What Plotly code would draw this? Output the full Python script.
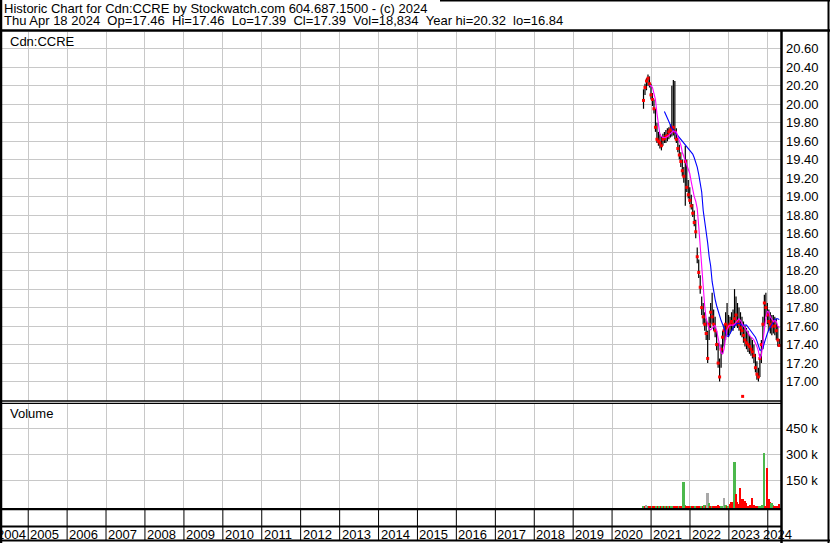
import plotly.graph_objects as go
import pandas as pd

# ---------------- data ----------------
period_dates = pd.date_range(end="2024-04-18", periods=92, freq="14D")

highs = [20.16, 20.22, 20.28, 20.32, 20.30, 20.22, 20.12, 20.05, 19.95, 19.80,
         19.70, 19.68, 19.65, 19.68, 19.70, 19.72, 19.74, 19.75, 19.78, 20.20,
         20.26, 20.25, 19.74, 19.64, 19.56, 19.48, 19.40, 19.32, 19.55, 19.40,
         19.18, 19.10, 19.02, 18.92, 18.85, 18.75, 18.45, 18.32, 18.15, 17.92,
         17.85, 17.75, 17.68, 17.55, 17.70, 17.85, 17.96, 17.78, 17.70, 17.55,
         17.42, 17.25, 17.40, 17.55, 17.62, 17.75, 17.85, 17.72, 17.70, 17.75,
         17.78, 18.00, 17.92, 17.85, 17.80, 17.75, 17.70, 17.65, 17.60, 17.58,
         17.55, 17.50, 17.48, 17.45, 17.40, 17.30, 17.22, 17.15, 17.30, 17.45,
         17.70, 17.94, 17.96, 17.85, 17.78, 17.75, 17.72, 17.72, 17.70, 17.68,
         17.60, 17.46]

lows = [19.95, 20.10, 20.15, 20.20, 20.18, 20.05, 19.98, 19.90, 19.70, 19.58,
        19.55, 19.52, 19.50, 19.55, 19.58, 19.58, 19.60, 19.62, 19.64, 19.65,
        19.66, 19.62, 19.58, 19.48, 19.40, 19.32, 19.22, 19.15, 18.90, 19.05,
        18.98, 18.92, 18.86, 18.78, 18.68, 18.55, 18.28, 18.12, 17.95, 17.72,
        17.62, 17.55, 17.45, 17.20, 17.45, 17.58, 17.62, 17.55, 17.48, 17.34,
        17.15, 17.00, 17.15, 17.30, 17.38, 17.45, 17.50, 17.48, 17.52, 17.55,
        17.55, 17.58, 17.60, 17.58, 17.55, 17.50, 17.48, 17.42, 17.38, 17.35,
        17.32, 17.30, 17.28, 17.25, 17.20, 17.10, 17.02, 17.00, 17.05, 17.20,
        17.35, 17.60, 17.70, 17.62, 17.55, 17.52, 17.50, 17.52, 17.50, 17.45,
        17.38, 17.39]

closes = [20.04, 20.18, 20.25, 20.28, 20.22, 20.10, 20.05, 19.95, 19.75, 19.62,
          19.60, 19.58, 19.55, 19.62, 19.63, 19.65, 19.66, 19.70, 19.72, 19.74,
          19.75, 19.70, 19.62, 19.52, 19.45, 19.38, 19.28, 19.22, 19.38, 19.10,
          19.02, 18.96, 18.90, 18.82, 18.72, 18.62, 18.35, 18.18, 18.02, 17.80,
          17.70, 17.62, 17.52, 17.25, 17.62, 17.75, 17.70, 17.62, 17.55, 17.40,
          17.20, 17.05, 17.35, 17.48, 17.55, 17.62, 17.58, 17.60, 17.62, 17.65,
          17.62, 17.68, 17.72, 17.65, 17.62, 17.58, 17.55, 17.50, 17.45, 17.42,
          17.40, 17.38, 17.35, 17.32, 17.28, 17.15, 17.08, 17.05, 17.25, 17.40,
          17.62, 17.85, 17.80, 17.72, 17.65, 17.62, 17.60, 17.65, 17.60, 17.55,
          17.45, 17.39]

ma_short = [None, None, None, None, 20.20, 20.20, 20.18, 20.12, 20.05, 19.90,
            19.75, 19.67, 19.65, 19.64, 19.64, 19.64, 19.65, 19.66, 19.68, 19.70,
            19.71, 19.70, 19.70, 19.65, 19.60, 19.56, 19.48, 19.43, 19.38, 19.34,
            19.30, 19.25, 19.16, 19.07, 19.00, 18.95, 18.87, 18.68, 18.46, 18.20,
            17.98, 17.82, 17.68, 17.61, 17.57, 17.56, 17.58, 17.60, 17.61, 17.55,
            17.46, 17.38, 17.31, 17.30, 17.35, 17.47, 17.56, 17.60, 17.61, 17.61,
            17.61, 17.62, 17.64, 17.66, 17.68, 17.66, 17.62, 17.60, 17.58, 17.55,
            17.52, 17.50, 17.48, 17.47, 17.45, 17.42, 17.38, 17.33, 17.25, 17.28,
            17.42, 17.58, 17.70, 17.76, 17.75, 17.70, 17.67, 17.65, 17.66, 17.65,
            17.60, 17.58]

ma_long = [None, None, None, None, None, None, None, None, None, None,
           None, None, None, None, 19.92, 19.88, 19.85, 19.80, 19.76, 19.74,
           19.72, 19.70, 19.68, 19.66, 19.64, 19.62, 19.60, 19.58, 19.56, 19.55,
           19.53, 19.51, 19.48, 19.46, 19.42, 19.38, 19.32, 19.24, 19.13, 19.05,
           18.85, 18.74, 18.62, 18.50, 18.35, 18.25, 18.08, 17.97, 17.89, 17.82,
           17.76, 17.71, 17.66, 17.62, 17.57, 17.52, 17.49, 17.49, 17.52, 17.56,
           17.59, 17.61, 17.62, 17.63, 17.63, 17.62, 17.61, 17.61, 17.61, 17.61,
           17.59, 17.57, 17.55, 17.53, 17.51, 17.48, 17.44, 17.39, 17.34, 17.34,
           17.36, 17.42, 17.48, 17.52, 17.56, 17.59, 17.62, 17.65, 17.67, 17.68,
           17.68, 17.67]

volume_thousands = [8, 6, 15, 7, 5, 4, 6, 3, 5, 4,
                    3, 5, 4, 6, 3, 4, 9, 6, 4, 7,
                    5, 9, 4, 6, 5, 8, 4, 149, 17, 6,
                    5, 8, 4, 6, 10, 5, 7, 4, 6, 8,
                    9, 17, 6, 82, 25, 8, 6, 10, 5, 7,
                    12, 9, 11, 6, 54, 17, 9, 6, 23, 34,
                    12, 259, 79, 31, 18, 111, 48, 48, 40, 25,
                    6, 5, 12, 52, 15, 8, 10, 6, 11, 9,
                    14, 312, 11, 226, 46, 30, 25, 15, 11, 10,
                    8, 19]

# +1 up, -1 down, 0 unchanged
direction = [1, -1, 0, 1, -1, -1, 1, -1, -1, 1,
             -1, 1, -1, 1, -1, 1, -1, 1, -1, 1,
             1, -1, -1, -1, 1, -1, -1, 1, 1, -1,
             -1, -1, 1, -1, -1, 1, -1, -1, -1, 1,
             -1, 1, -1, 0, 1, -1, 1, -1, -1, -1,
             -1, -1, 1, 1, 0, 1, -1, 1, -1, -1,
             -1, 1, -1, -1, -1, -1, -1, -1, -1, -1,
             -1, -1, -1, -1, -1, -1, -1, -1, 1, 1,
             1, 1, -1, -1, -1, -1, 1, 1, -1, -1,
             -1, -1]

year_low_date = "2023-05-10"
year_low = 16.84

years = list(range(2004, 2025))
price_ticks = [17.00, 17.20, 17.40, 17.60, 17.80, 18.00, 18.20, 18.40, 18.60,
               18.80, 19.00, 19.20, 19.40, 19.60, 19.80, 20.00, 20.20, 20.40, 20.60]
volume_ticks = [150, 300, 450]
volume_tick_labels = ["150 k", "300 k", "450 k"]

header_line1 = "Historic Chart for Cdn:CCRE by Stockwatch.com 604.687.1500 - (c) 2024"
header_line2 = ("Thu Apr 18 2024  Op=17.46  Hi=17.46  Lo=17.39  Cl=17.39  "
                "Vol=18,834  Year hi=20.32  lo=16.84").replace("  ", "\u00a0\u00a0")

# ---------------- layout helpers ----------------
W, H = 830, 543
ML, MR, MT, MB = 2, 49, 32, 34
PW = W - ML - MR
PH = H - MT - MB
FONT = "Liberation Sans, Arial, sans-serif"
GRID = "#c8c8c8"


def fx(px):
    return (px - ML) / PW


def fy(py):
    return (H - MB - py) / PH


# ---------------- traces ----------------
hl_x, hl_y = [], []
for d, hi, lo in zip(period_dates, highs, lows):
    hl_x += [d, d, None]
    hl_y += [lo, hi, None]

fig = go.Figure()
fig.add_trace(go.Scatter(x=hl_x, y=hl_y, mode="lines",
                         line=dict(color="black", width=1.2),
                         hoverinfo="skip", showlegend=False))
fig.add_trace(go.Scatter(x=period_dates, y=closes, mode="markers",
                         marker=dict(symbol="square", size=3, color="#ff0000",
                                     line=dict(width=0)),
                         showlegend=False))
fig.add_trace(go.Scatter(x=[year_low_date], y=[year_low], mode="markers",
                         marker=dict(symbol="square", size=3, color="#ff0000",
                                     line=dict(width=0)),
                         showlegend=False))
fig.add_trace(go.Scatter(x=period_dates, y=ma_long, mode="lines",
                         line=dict(color="#0000ff", width=1.1),
                         connectgaps=False, showlegend=False))
fig.add_trace(go.Scatter(x=period_dates, y=ma_short, mode="lines",
                         line=dict(color="#ff00ff", width=1.1),
                         connectgaps=False, showlegend=False))

vol_colors = ["#4cb84c" if d > 0 else ("#ff0000" if d < 0 else "#a8a8a8")
              for d in direction]
fig.add_trace(go.Bar(x=period_dates, y=volume_thousands,
                     marker=dict(color=vol_colors, line=dict(width=0)),
                     width=14 * 86400000 * 1.3,
                     xaxis="x2", yaxis="y2", showlegend=False))

# ---------------- axes ----------------
year_starts = [f"{y}-01-01" for y in years[1:]]
xcommon = dict(type="date", range=["2004-04-30", "2024-05-04"],
               tickvals=year_starts, showticklabels=False, ticks="",
               showgrid=True, gridcolor=GRID, gridwidth=1,
               showline=False, zeroline=False)

fig.update_layout(
    width=W, height=H, autosize=False,
    margin=dict(l=ML, r=MR, t=MT, b=MB, pad=0),
    paper_bgcolor="white", plot_bgcolor="white",
    font=dict(family=FONT, size=13, color="black"),
    showlegend=False, bargap=0,
    xaxis=dict(domain=[0, 1], anchor="y", **xcommon),
    xaxis2=dict(domain=[0, 1], anchor="y2", matches="x", **xcommon),
    yaxis=dict(domain=[fy(401), 1], range=[16.79, 20.78], side="right",
               tickvals=price_ticks, ticktext=[f"{v:.2f}" for v in price_ticks],
               ticks="", ticklabelstandoff=4, showgrid=True, gridcolor=GRID,
               zeroline=False, showline=False,
               tickfont=dict(family=FONT, size=13, color="black")),
    yaxis2=dict(domain=[0, fy(403.5)], range=[-11.5, 594.8], side="right",
                tickvals=volume_ticks, ticktext=volume_tick_labels,
                ticks="", ticklabelstandoff=4, showgrid=True, gridcolor=GRID,
                zeroline=False, showline=False,
                tickfont=dict(family=FONT, size=13, color="black")),
)

# ---------------- frame lines ----------------
shapes = []


def hline(py, x0, x1, w):
    shapes.append(dict(type="line", xref="paper", yref="paper",
                       x0=fx(x0), x1=fx(x1), y0=fy(py), y1=fy(py),
                       line=dict(color="black", width=w)))


def vline(px, y0, y1, w):
    shapes.append(dict(type="line", xref="paper", yref="paper",
                       x0=fx(px), x1=fx(px), y0=fy(y0), y1=fy(y1),
                       line=dict(color="black", width=w)))


vline(1, 0, 543, 2.5)
vline(828.5, 0, 543, 2)
hline(0.75, 440, 830, 1.5)
hline(30.5, 0, 830, 2.5)
vline(781.5, 30, 543, 2.5)
hline(401, 0, 781, 1.5)
hline(403.3, 0, 781, 1.2)
hline(509.2, 0, 781, 2.2)
hline(526.5, 0, 781, 2)
hline(540.5, 0, 830, 2)
for ys in year_starts:
    shapes.append(dict(type="line", xref="x", yref="paper", x0=ys, x1=ys,
                       y0=fy(509), y1=fy(541),
                       line=dict(color="black", width=1)))
fig.update_layout(shapes=shapes)

# ---------------- text ----------------
ann = []


def label(text, x, y, xref="paper", xanchor="left", xshift=0, size=13):
    ann.append(dict(text=text, x=x, y=y, xref=xref, yref="paper",
                    xanchor=xanchor, yanchor="middle", showarrow=False,
                    xshift=xshift, borderpad=0,
                    font=dict(family=FONT, size=size, color="black")))


label(header_line1, fx(3), fy(8))
label(header_line2, fx(3), fy(20))
label("Cdn:CCRE", fx(9), fy(41.5))
label("Volume", fx(9), fy(413.5))

for y in years:
    if y == 2004:
        label(str(y), "2005-01-01", fy(534), xref="x", xanchor="right", xshift=-1)
    elif y == 2024:
        label(str(y), "2024-01-01", fy(534), xref="x", xanchor="left", xshift=-6)
    else:
        label(str(y), f"{y}-01-01", fy(534), xref="x", xanchor="left", xshift=1)

fig.update_layout(annotations=ann)

fig.write_html("out.html", config={"displayModeBar": False},
               post_script="document.body.style.margin='0';"
                           "document.body.style.overflow='hidden';")
